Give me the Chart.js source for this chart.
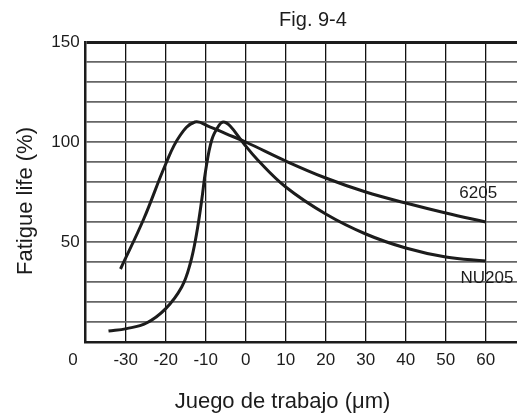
<!DOCTYPE html>
<html>
<head>
<meta charset="utf-8">
<script src="https://cdn.jsdelivr.net/npm/chart.js@4/dist/chart.umd.min.js"></script>
<style>
  html, body { margin:0; padding:0; background:#fff; }
  #wrap { width:517px; height:414px; }
</style>
</head>
<body>
<div id="wrap"><canvas id="fig" width="517" height="414"></canvas></div>
<script>
// valores (juego en um, vida en %)
const xTicks = [-30,-20,-10,0,10,20,30,40,50,60];
const yTicks = [0,10,20,30,40,50,60,70,80,90,100,110,120,130,140,150];
const yLabels = [50,100,150];

const x6205 = [-31.3,-25.5,-20,-16.5,-12.7,-9,-5,0,10,20,30,40,50,60];
const y6205 = [36.5,61.5,89,103,110,107.6,104.2,100,90.5,82,75,69.5,64.5,60];

const xNU205 = [-34.3,-29.8,-24.8,-20,-16,-13.9,-12.3,-11,-10,-8.5,-6.8,-5.6,-3.9,-0.6,3,10,20,30,40,50,60];
const yNU205 = [5.5,6.7,9.5,16.7,27.5,39,54,71,86,101,108,110,108,99.5,91,77.5,64,54,47,42.5,40.5];

const FONT = "'Liberation Sans', Arial, sans-serif";
const INK = '#1c1c1c';
const pts = (xs, ys) => xs.map((x,i) => ({x, y: ys[i]}));

const lineStyle = {borderColor:INK, borderWidth:3, pointRadius:0, tension:0.4, fill:false};

// textos sueltos: titulo, ejes, "0" y nombres de las curvas
const textos = {
  id:'textos',
  afterDraw(chart){
    const c = chart.ctx, xs = chart.scales.x, ys = chart.scales.y;
    c.save();
    c.fillStyle = INK;
    c.textAlign = 'center'; c.textBaseline = 'middle';
    c.font = `20px ${FONT}`; c.fillText('Fig. 9-4', 313, 20);
    c.font = `22px ${FONT}`; c.fillText('Juego de trabajo (μm)', 282.5, 402);
    c.save(); c.translate(26, 201); c.rotate(-Math.PI/2); c.fillText('Fatigue life (%)', 0, 0); c.restore();
    c.font = `17px ${FONT}`;
    c.fillText('0', 73, 360);
    c.fillText('6205', xs.getPixelForValue(58.1), ys.getPixelForValue(74.5));
    c.fillText('NU205', xs.getPixelForValue(60.3), ys.getPixelForValue(32));
    c.restore();
  }
};

new Chart(document.getElementById('fig'), {
  type:'line',
  data:{ datasets:[
    {label:'6205', data:pts(x6205,y6205), ...lineStyle},
    {label:'NU205', data:pts(xNU205,yNU205), ...lineStyle}
  ]},
  options:{
    responsive:false, animation:false,
    layout:{padding:{top:42,left:0,right:0,bottom:0}},
    plugins:{legend:{display:false}, tooltip:{enabled:false}, title:{display:false}},
    scales:{
      x:{
        type:'linear', min:-40, max:67.8,
        afterBuildTicks: s => { s.ticks = xTicks.map(v => ({value:v})); },
        afterFit: s => { s.height = 72; },
        border:{color:INK, width:2.5},
        grid:{color:'#111', lineWidth:1.3, drawTicks:false},
        ticks:{color:INK, padding:8, font:{family:FONT, size:17}, maxRotation:0, autoSkip:false}
      },
      y:{
        min:0, max:150,
        afterBuildTicks: s => { s.ticks = yTicks.map(v => ({value:v})); },
        afterFit: s => { s.width = 85.7; },
        border:{color:INK, width:2.5},
        grid:{
          drawTicks:false,
          color: ctx => ctx.tick.value === 150 ? INK : '#666',
          lineWidth: ctx => ctx.tick.value === 150 ? 3 : 1.8
        },
        ticks:{
          autoSkip:false, color:INK, padding:6, font:{family:FONT, size:17},
          callback: v => yLabels.includes(v) ? String(v) : ''
        }
      }
    }
  },
  plugins:[textos]
});
</script>
</body>
</html>
